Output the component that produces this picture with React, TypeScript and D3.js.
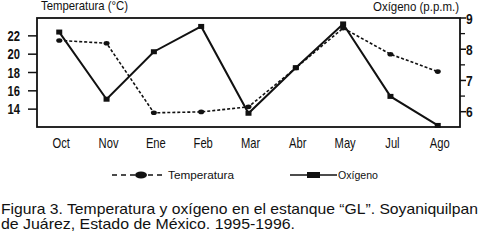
import React from "react";
import * as d3 from "d3";

const months = ["Oct", "Nov", "Ene", "Feb", "Mar", "Abr", "May", "Jul", "Ago"];
const temperatura = [21.5, 21.2, 13.6, 13.7, 14.25, 18.5, 22.85, 20.0, 18.1];
const oxigeno = [8.55, 6.4, 7.92, 8.73, 5.95, 7.41, 8.81, 6.49, 5.56];
const tempTicks = [14, 16, 18, 20, 22];
const oxTicks = [6, 7, 8, 9];
const oxMinorTicks = [6.5, 7.5, 8.5];

const FONT = "'Liberation Sans', Arial, sans-serif";
const INK = "#111";
const SX = 0.8;

type CProps = {
  x: number;
  y: number;
  size: number;
  children: React.ReactNode;
  width?: number;
  anchor?: "start" | "middle" | "end";
  weight?: string;
};

function CText({ x, y, size, children, width, anchor = "start", weight = "normal" }: CProps) {
  return (
    <g transform={`translate(${x},${y}) scale(${SX},1)`}>
      <text
        x={0}
        y={0}
        fontSize={size}
        fontWeight={weight}
        textAnchor={anchor}
        fill={INK}
        {...(width ? { textLength: width / SX, lengthAdjust: "spacingAndGlyphs" } : {})}
      >
        {children}
      </text>
    </g>
  );
}

export default function App() {
  const left = 37, right = 460, top = 18, bottom = 127;
  const x = d3.scalePoint<string>().domain(months).range([left, right]).padding(0.47);
  const yL = d3.scaleLinear().domain([12.05, 23.95]).range([bottom, top]);
  const yR = d3.scaleLinear().domain([5.51, 9]).range([bottom, top]);

  const tempLine = d3.line<number>().x((_, i) => x(months[i])!).y((d) => yL(d));
  const oxLine = d3.line<number>().x((_, i) => x(months[i])!).y((d) => yR(d));

  return (
    <svg width={482} height={240} style={{ position: "absolute", left: 0, top: 0, background: "#fff" }} fontFamily={FONT}>
      <rect x={0} y={0} width={482} height={240} fill="#fff" />
      {/* axis titles */}
      <CText x={41} y={10} size={12.5} width={87}>Temperatura (°C)</CText>
      <CText x={373} y={11} size={12.5} width={86}>Oxígeno (p.p.m.)</CText>

      {/* frame */}
      <rect x={left} y={top} width={right - left} height={bottom - top} fill="none" stroke={INK} strokeWidth={1.8} />

      {/* left axis */}
      {tempTicks.map((t) => (
        <g key={"l" + t}>
          <line x1={left - 9} x2={left} y1={yL(t)} y2={yL(t)} stroke={INK} strokeWidth={1.5} />
          <CText x={20} y={yL(t) + 5} size={14} anchor="end" weight="bold">{t}</CText>
        </g>
      ))}

      {/* right axis */}
      {oxTicks.map((t) => (
        <g key={"r" + t}>
          <line x1={right} x2={right + 6} y1={yR(t)} y2={yR(t)} stroke={INK} strokeWidth={1.5} />
          <CText x={466} y={yR(t) + 5.5} size={15} weight="bold">{t}</CText>
        </g>
      ))}
      {oxMinorTicks.map((t) => (
        <line key={"m" + t} x1={right} x2={right + 5} y1={yR(t)} y2={yR(t)} stroke={INK} strokeWidth={1.3} />
      ))}

      {/* x labels */}
      {months.map((m) => (
        <CText key={m} x={x(m)! + 2} y={148} size={14} anchor="middle">{m}</CText>
      ))}

      {/* temperature: dashed with circles */}
      <path d={tempLine(temperatura)!} fill="none" stroke={INK} strokeWidth={1.6} strokeDasharray="3,2" />
      {temperatura.map((v, i) => (
        <ellipse key={"tc" + i} cx={x(months[i])!} cy={yL(v)} rx={3} ry={2.3} fill={INK} />
      ))}

      {/* oxygen: solid with squares */}
      <path d={oxLine(oxigeno)!} fill="none" stroke={INK} strokeWidth={2} />
      {oxigeno.map((v, i) => (
        <rect key={"os" + i} x={x(months[i])! - 3} y={yR(v) - 2.5} width={6} height={5} fill={INK} />
      ))}

      {/* legend */}
      <line x1={112} x2={166} y1={175} y2={175} stroke={INK} strokeWidth={1.6} strokeDasharray="5,4" />
      <ellipse cx={141} cy={175} rx={6} ry={3.5} fill={INK} />
      <CText x={168} y={179} size={11.5} width={66}>Temperatura</CText>
      <line x1={290} x2={337} y1={175} y2={175} stroke={INK} strokeWidth={1.6} />
      <rect x={307} y={172} width={13} height={6} fill={INK} />
      <CText x={338} y={179} size={11.5} width={40}>Oxígeno</CText>

      {/* caption */}
      <CText x={1} y={214} size={14.5} width={477}>Figura 3. Temperatura y oxígeno en el estanque “GL”. Soyaniquilpan</CText>
      <CText x={1} y={229} size={14.5} width={294}>de Juárez, Estado de México. 1995-1996.</CText>
    </svg>
  );
}
